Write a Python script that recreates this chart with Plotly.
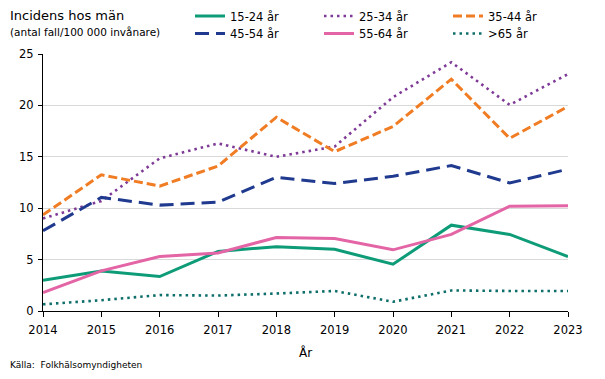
import plotly.graph_objects as go

years = [2014, 2015, 2016, 2017, 2018, 2019, 2020, 2021, 2022, 2023]
s15_24 = [3.0, 3.9, 3.35, 5.8, 6.25, 6.0, 4.55, 8.35, 7.45, 5.3]
s25_34 = [9.0, 10.7, 14.85, 16.3, 15.0, 16.0, 20.8, 24.2, 20.05, 23.05]
s35_44 = [9.35, 13.25, 12.15, 14.1, 18.85, 15.5, 17.95, 22.55, 16.8, 19.9]
s45_54 = [7.8, 11.05, 10.3, 10.6, 13.0, 12.4, 13.1, 14.15, 12.45, 13.8]
s55_64 = [1.8, 3.9, 5.3, 5.65, 7.15, 7.05, 5.95, 7.45, 10.2, 10.25]
s65 = [0.65, 1.05, 1.55, 1.5, 1.7, 1.95, 0.9, 2.0, 1.95, 1.95]
names = ["15-24 år", "25-34 år", "35-44 år", "45-54 år", "55-64 år", ">65 år"]
yticks = [0, 5, 10, 15, 20, 25]

FONT = "DejaVu Sans"

styles = [
    dict(color="#0E9C78", width=3, dash="solid"),
    dict(color="#7E3A96", width=2.6, dash="2.5px,4px"),
    dict(color="#F07C24", width=3, dash="9px,4px"),
    dict(color="#1F3A8E", width=3, dash="14px,7px"),
    dict(color="#E365A6", width=3, dash="solid"),
    dict(color="#0D6E6A", width=2.6, dash="2.5px,4px"),
]
series = [s15_24, s25_34, s35_44, s45_54, s55_64, s65]
legend_ids = ["legend", "legend", "legend", "legend2", "legend2", "legend2"]

fig = go.Figure()
for n, s, st, lg in zip(names, series, styles, legend_ids):
    fig.add_trace(go.Scatter(x=years, y=s, name=n, mode="lines", line=st, legend=lg))

# page body has an 8px default margin: figure coords = screen coords - 8
W, H = 597, 371
L, T = 35, 46
PW, PH = 525, 257
R = W - L - PW
B = H - T - PH
lx = (182 - L) / PW
common_leg = dict(orientation="h", xanchor="left", yanchor="middle",
                  entrywidth=84, entrywidthmode="pixels",
                  font=dict(size=11.5, family=FONT), tracegroupgap=0,
                  bgcolor="rgba(0,0,0,0)", borderwidth=0)

fig.update_layout(
    width=W, height=H,
    margin=dict(l=L, r=R, t=T, b=B, autoexpand=False),
    paper_bgcolor="white", plot_bgcolor="white",
    font=dict(family=FONT, size=11.5, color="black"),
    showlegend=True,
    legend=dict(x=lx, y=1 + (T - 8) / PH, **common_leg),
    legend2=dict(x=lx, y=1 + (T - 25.5) / PH, **common_leg),
    xaxis=dict(range=[2014, 2023], tickvals=years, ticktext=[str(y) for y in years],
               showgrid=False, showline=True, linecolor="black", linewidth=1,
               ticks="outside", ticklen=5, tickcolor="black", ticklabelstandoff=3,
               title=dict(text="År", font=dict(size=12), standoff=12),
               zeroline=False),
    yaxis=dict(range=[0, 25], tickvals=yticks, showgrid=True, gridcolor="#D9D9D9",
               showline=True, linecolor="black", linewidth=1,
               ticks="outside", ticklen=4, tickcolor="black", zeroline=False,
               ticklabelstandoff=2),
)

fig.add_annotation(text="Incidens hos män", xref="paper", yref="paper",
                   x=-L / PW, y=1 + (T - 7) / PH, xanchor="left", yanchor="middle",
                   showarrow=False, font=dict(size=13))
fig.add_annotation(text="(antal fall/100 000 invånare)", xref="paper", yref="paper",
                   x=-L / PW, y=1 + (T - 24) / PH, xanchor="left", yanchor="middle",
                   showarrow=False, font=dict(size=10.5))
fig.add_annotation(text="Källa:  Folkhälsomyndigheten", xref="paper", yref="paper",
                   x=-L / PW, y=-(357 - (T + PH)) / PH, xanchor="left", yanchor="middle",
                   showarrow=False, font=dict(size=9))

fig.write_html("out.html")
